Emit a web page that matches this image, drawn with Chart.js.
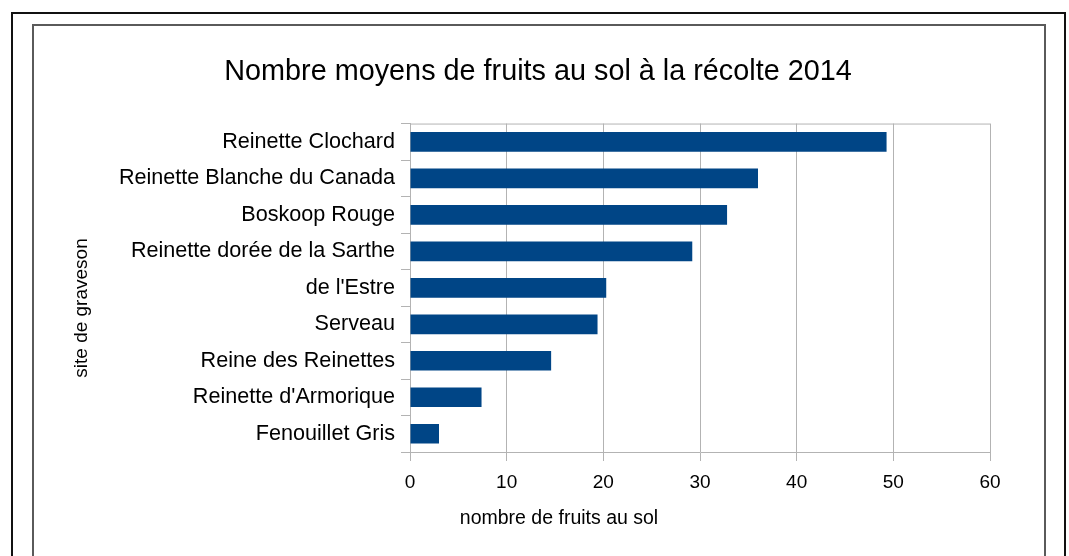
<!DOCTYPE html>
<html>
<head>
<meta charset="utf-8">
<script src="https://cdn.jsdelivr.net/npm/chart.js@4"></script>
<style>
    body { margin: 0; background: #fff; }
    #wrap { position: relative; width: 1069px; height: 556px; overflow: hidden; }
    .frame { position: absolute; box-sizing: border-box; height: 700px; }
    #outer { left: 11px; top: 12px; width: 1055px; border: 2px solid #111; }
    #inner { left: 32px; top: 24px; width: 1014px; border: 2px solid #5a5a5a; }
    canvas { position: absolute; left: 0; top: 0; }
</style>
</head>
<body>
<div id="wrap">
    <div class="frame" id="outer"></div>
    <div class="frame" id="inner"></div>
    <canvas id="fruitChart" width="1069" height="556"></canvas>
</div>
<script>
const varieties = [
    'Reinette Clochard',
    'Reinette Blanche du Canada',
    'Boskoop Rouge',
    'Reinette dorée de la Sarthe',
    "de l'Estre",
    'Serveau',
    'Reine des Reinettes',
    "Reinette d'Armorique",
    'Fenouillet Gris'
];
const fruitsAuSol = [49.3, 36.0, 32.8, 29.2, 20.3, 19.4, 14.6, 7.4, 3.0];
const axisMin = 0;
const axisMax = 60;
const axisStep = 10;

const chartTitle = 'Nombre moyens de fruits au sol à la récolte 2014';
const xTitle = 'nombre de fruits au sol';
const yTitle = 'site de graveson';

const FONT = '"Liberation Sans", Arial, sans-serif';
const GRID = '#b3b3b3';

// top edge of the plot + the two axis titles (placed like the original, off-centre)
const extras = {
    id: 'extras',
    beforeDatasetsDraw(chart) {
        const { ctx, chartArea } = chart;
        ctx.save();
        ctx.strokeStyle = GRID;
        ctx.lineWidth = 1;
        ctx.beginPath();
        ctx.moveTo(chartArea.left, chartArea.top + 0.5);
        ctx.lineTo(chartArea.right, chartArea.top + 0.5);
        ctx.stroke();
        ctx.restore();
    },
    afterDraw(chart) {
        const { ctx } = chart;
        ctx.save();
        ctx.fillStyle = '#000';
        ctx.textAlign = 'center';
        ctx.textBaseline = 'middle';
        ctx.font = '19.5px ' + FONT;
        ctx.fillText(xTitle, 559, 519);
        ctx.translate(82, 308);
        ctx.rotate(-Math.PI / 2);
        ctx.font = '19px ' + FONT;
        ctx.fillText(yTitle, 0, 0);
        ctx.restore();
    }
};

const ctx = document.getElementById('fruitChart').getContext('2d');
new Chart(ctx, {
    type: 'bar',
    data: {
        labels: varieties,
        datasets: [{
            data: fruitsAuSol,
            backgroundColor: '#004586',
            borderWidth: 0,
            barPercentage: 0.54,
            categoryPercentage: 1
        }]
    },
    options: {
        indexAxis: 'y',
        responsive: false,
        animation: false,
        layout: {
            padding: { left: 86, right: 79, top: 0, bottom: 0 }
        },
        plugins: {
            legend: { display: false },
            tooltip: { enabled: false },
            title: {
                display: true,
                text: chartTitle,
                color: '#000',
                font: { family: FONT, size: 28.8, weight: 'normal' },
                padding: { top: 55, bottom: 34 }
            }
        },
        scales: {
            x: {
                min: axisMin,
                max: axisMax,
                ticks: {
                    stepSize: axisStep,
                    color: '#000',
                    font: { family: FONT, size: 19 },
                    padding: 10
                },
                grid: { color: GRID, tickLength: 9 },
                border: { color: GRID, width: 1 },
                afterFit(scale) { scale.height = 104; }
            },
            y: {
                ticks: {
                    color: '#000',
                    font: { family: FONT, size: 21.6 },
                    padding: 6,
                    autoSkip: false
                },
                grid: {
                    color: GRID,
                    offset: true,
                    drawOnChartArea: false,
                    tickLength: 9
                },
                border: { color: GRID, width: 1 },
                afterFit(scale) { scale.width = 324; }
            }
        }
    },
    plugins: [extras]
});
</script>
</body>
</html>
